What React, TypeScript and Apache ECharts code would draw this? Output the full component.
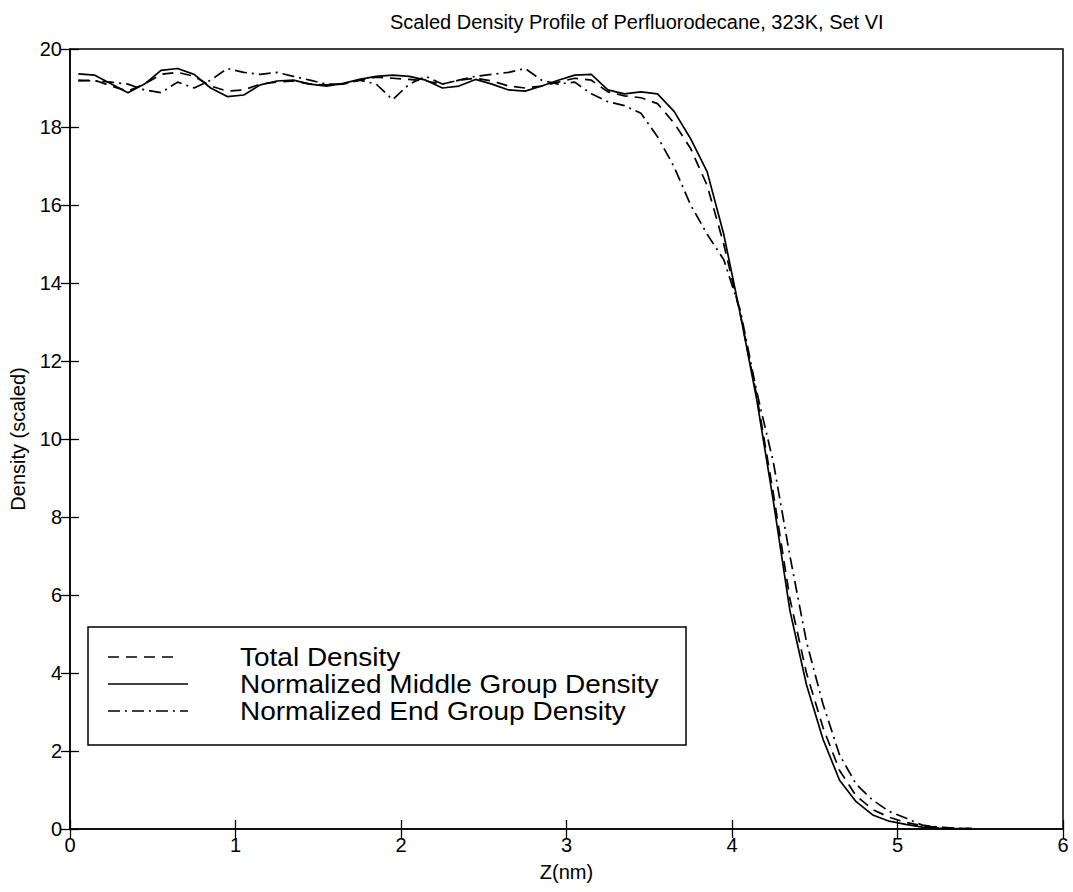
import React, { useEffect, useRef } from "react";
import * as echarts from "echarts";

const zNm = [
  0.05, 0.15, 0.25, 0.35, 0.45, 0.55, 0.65, 0.75, 0.85, 0.95,
  1.05, 1.15, 1.25, 1.35, 1.45, 1.55, 1.65, 1.75, 1.85, 1.95,
  2.05, 2.15, 2.25, 2.35, 2.45, 2.55, 2.65, 2.75, 2.85, 2.95,
  3.05, 3.15, 3.25, 3.35, 3.45, 3.55, 3.65, 3.75, 3.85, 3.95,
  4.05, 4.15, 4.25, 4.35, 4.45, 4.55, 4.65, 4.75, 4.85, 4.95,
  5.05, 5.15, 5.25, 5.35, 5.45,
];

const totalDensity = [
  19.18, 19.2, 19.05, 18.92, 19.1, 19.35, 19.4, 19.3, 19.05, 18.92,
  18.95, 19.1, 19.15, 19.18, 19.1, 19.08, 19.1, 19.2, 19.28, 19.25,
  19.22, 19.18, 19.1, 19.2, 19.25, 19.18, 19.05, 19.0, 19.05, 19.15,
  19.25, 19.2, 18.9, 18.8, 18.75, 18.6, 18.1, 17.45, 16.5, 15.0,
  13.2, 11.1, 8.6, 5.9, 4.0, 2.6, 1.5, 0.85, 0.5, 0.3,
  0.17, 0.08, 0.04, 0.02, 0.01,
];

const middleDensity = [
  19.36, 19.33, 19.1, 18.88, 19.1, 19.45, 19.5, 19.35, 19.0, 18.78,
  18.82, 19.08, 19.18, 19.2, 19.1, 19.05, 19.12, 19.22, 19.3, 19.33,
  19.3, 19.2, 19.0, 19.05, 19.22, 19.1, 18.95, 18.92, 19.05, 19.2,
  19.33, 19.35, 18.95, 18.85, 18.9, 18.85, 18.4, 17.7, 16.85, 15.25,
  13.2, 11.0, 8.4, 5.6, 3.7, 2.3, 1.25, 0.7, 0.36, 0.2,
  0.12, 0.05, 0.02, 0.01, 0.0,
];

const endDensity = [
  19.2, 19.18, 19.15, 19.1, 18.95, 18.88, 19.15, 19.0, 19.2, 19.5,
  19.4, 19.35, 19.4, 19.3, 19.2, 19.1, 19.1, 19.2, 19.1, 18.7,
  19.1, 19.3, 19.1, 19.2, 19.3, 19.35, 19.4, 19.5, 19.2, 19.1,
  19.15, 18.85, 18.65, 18.55, 18.35, 17.75, 16.98, 16.0, 15.25, 14.6,
  13.3, 11.2, 9.4, 7.0, 4.8, 3.2, 1.9, 1.15, 0.74, 0.45,
  0.28, 0.1, 0.05, 0.02, 0.01,
];

const seriesNames = [
  "Total Density",
  "Normalized Middle Group Density",
  "Normalized End Group Density",
];

const FONT = "'Liberation Sans', Arial, Helvetica, sans-serif";

const DASHED = [11, 7];
const DASHDOT = [12, 5, 2, 5];

export default function App() {
  const ref = useRef<HTMLDivElement>(null);

  useEffect(() => {
    if (!ref.current) return;
    const chart = echarts.init(ref.current, undefined, { renderer: "svg" });

    const pairs = (ys: number[]) => zNm.map((z, i) => [z, ys[i]]);

    const lineSeries = (name: string, ys: number[], type: any) => ({
      name,
      type: "line",
      data: pairs(ys),
      showSymbol: false,
      symbol: "none",
      smooth: false,
      clip: true,
      lineStyle: { color: "#000", width: 1.7, type },
      z: 3,
    });

    const axisLabelStyle = { color: "#000", fontSize: 20, fontFamily: FONT };
    const tickStyle = { show: true, inside: true, length: 9, lineStyle: { color: "#000", width: 1.3 } };

    const rowsY = [657, 684, 711];
    const styles = [DASHED, null, DASHDOT];

    const legendGraphics: any[] = [
      {
        type: "rect",
        shape: { x: 88, y: 627, width: 598, height: 118 },
        style: { fill: "#fff", stroke: "#000", lineWidth: 1.5 },
        z: 10,
      },
    ];
    seriesNames.forEach((name, i) => {
      legendGraphics.push({
        type: "line",
        shape: { x1: 108, y1: rowsY[i], x2: i === 0 ? 178 : 188, y2: rowsY[i] },
        style: {
          stroke: "#000",
          lineWidth: 1.6,
          lineDash: styles[i] || undefined,
        },
        z: 11,
      });
      legendGraphics.push({
        type: "text",
        x: 240,
        y: rowsY[i] + 1,
        scaleX: 1.12,
        style: {
          text: name,
          fill: "#000",
          font: `25px ${FONT}`,
          verticalAlign: "middle",
          align: "left",
        },
        z: 11,
      });
    });

    chart.setOption({
      animation: false,
      backgroundColor: "#fff",
      title: {
        text: "Scaled Density Profile of Perfluorodecane, 323K, Set VI",
        left: 385,
        top: 7,
        textStyle: {
          color: "#000",
          fontSize: 20,
          fontWeight: "normal",
          fontFamily: FONT,
        },
      },
      grid: {
        left: 70,
        right: 10,
        top: 49,
        bottom: 63,
        show: true,
        borderColor: "#000",
        borderWidth: 1.5,
        backgroundColor: "transparent",
      },
      xAxis: [
        {
          type: "value",
          min: 0,
          max: 6,
          interval: 1,
          name: "Z(nm)",
          nameLocation: "middle",
          nameGap: 33,
          nameTextStyle: { color: "#000", fontSize: 20, fontFamily: FONT },
          axisLine: { show: true, lineStyle: { color: "#000", width: 1.5 } },
          axisTick: tickStyle,
          axisLabel: { ...axisLabelStyle, margin: 6 },
          splitLine: { show: false },
        },
        {
          type: "value",
          position: "top",
          min: 0,
          max: 6,
          interval: 1,
          axisLine: { show: false },
          axisTick: tickStyle,
          axisLabel: { show: false },
          splitLine: { show: false },
        },
      ],
      yAxis: [
        {
          type: "value",
          min: 0,
          max: 20,
          interval: 2,
          name: "Density (scaled)",
          nameLocation: "middle",
          nameGap: 42,
          nameRotate: 90,
          nameTextStyle: { color: "#000", fontSize: 20, fontFamily: FONT },
          axisLine: { show: true, lineStyle: { color: "#000", width: 1.5 } },
          axisTick: tickStyle,
          axisLabel: { ...axisLabelStyle, margin: 8 },
          splitLine: { show: false },
        },
        {
          type: "value",
          position: "right",
          min: 0,
          max: 20,
          interval: 2,
          axisLine: { show: false },
          axisTick: tickStyle,
          axisLabel: { show: false },
          splitLine: { show: false },
        },
      ],
      series: [
        lineSeries(seriesNames[0], totalDensity, DASHED),
        lineSeries(seriesNames[1], middleDensity, "solid"),
        lineSeries(seriesNames[2], endDensity, DASHDOT),
      ],
      graphic: legendGraphics,
    });

    return () => chart.dispose();
  }, []);

  return (
    <div
      ref={ref}
      style={{ position: "absolute", left: 0, top: 0, width: 1073, height: 892 }}
    />
  );
}
